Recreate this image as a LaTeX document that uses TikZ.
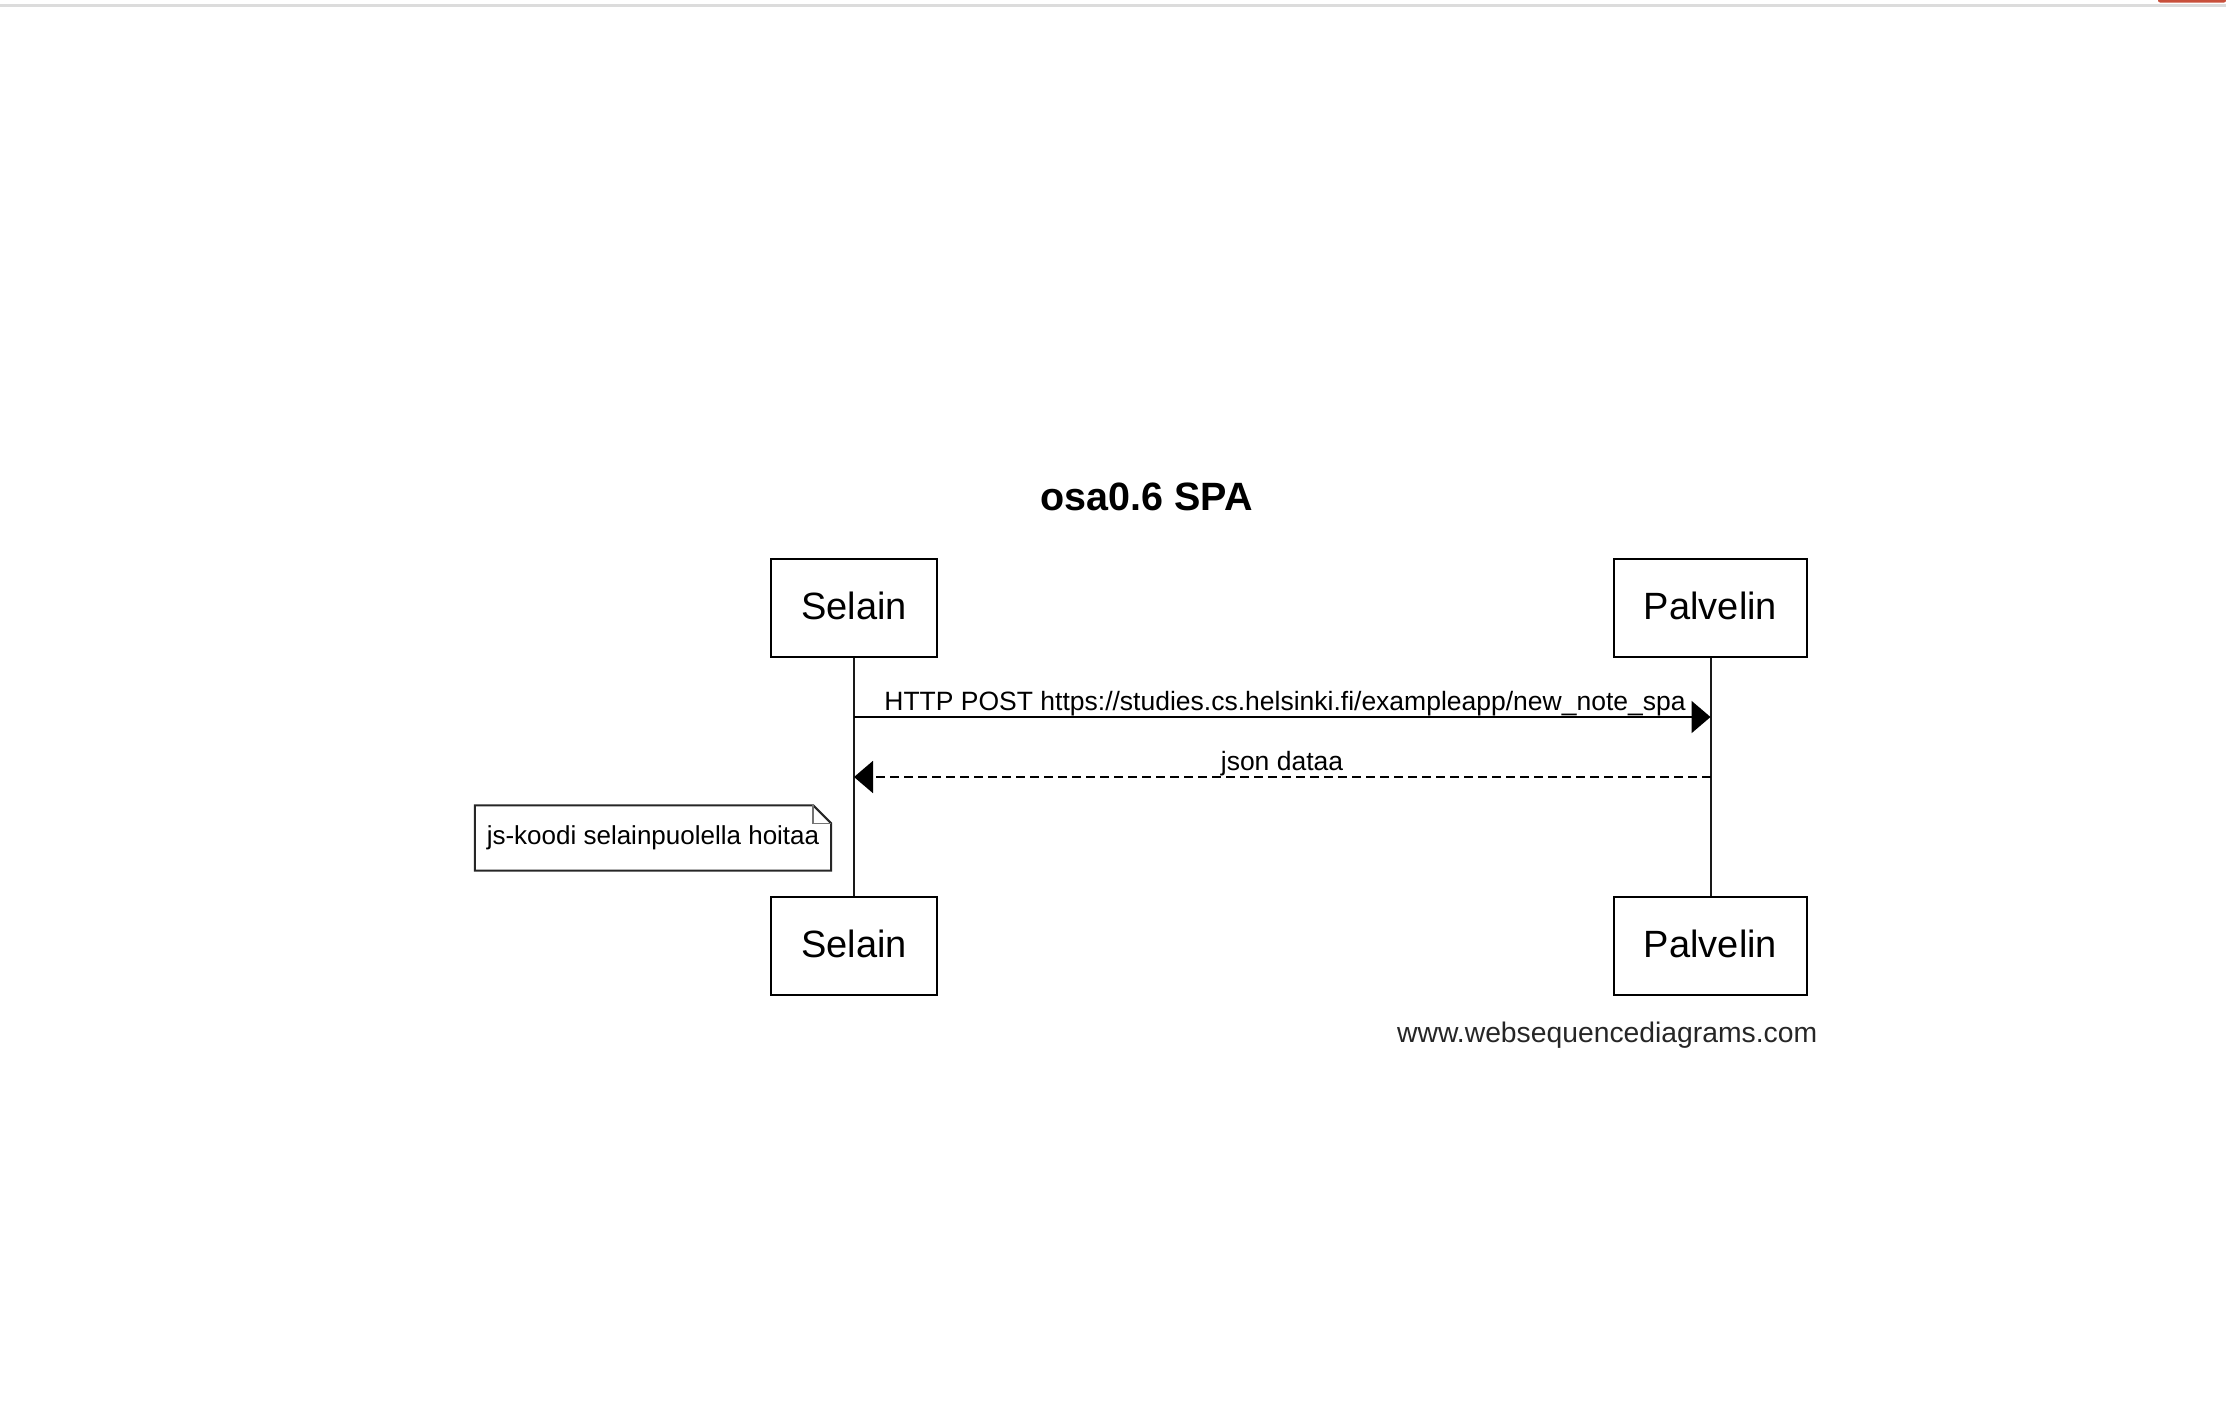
\documentclass[tikz,border=0pt]{standalone}
\usepackage{fontspec}
\setmainfont{Liberation Sans}
\usetikzlibrary{arrows.meta}
\definecolor{topgray}{HTML}{DCDCDC}
\definecolor{topred}{HTML}{C8503C}
\tikzset{
  actor/.style={draw=black, line width=2.2pt, fill=white, inner sep=0pt, minimum height=98pt,
    text height=27pt, text depth=5pt,
    font=\fontsize{38pt}{44pt}\selectfont},
  lifeline/.style={line width=2pt, draw=black!90},
  msg/.style={line width=2pt, -{Triangle[length=19pt,width=32pt]}},
  reply/.style={msg, dash pattern=on 9pt off 5pt},
  msglabel/.style={anchor=base, inner sep=0pt, font=\fontsize{26.5pt}{30pt}\selectfont},
  notebox/.style={inner sep=0pt, minimum width=356pt, minimum height=65pt,
    font=\fontsize{26pt}{30pt}\selectfont},
  noteline/.style={line width=2pt, draw=black!85, fill=white},
  foldline/.style={line width=1.5pt, draw=black!55},
}
\begin{document}
\begin{tikzpicture}[x=1pt, y=-1pt]
\useasboundingbox (0,0) rectangle (2226,1422);
% browser chrome remnants
\fill[topgray] (0,4) rectangle (2226,6.5);
\fill[topred, rounded corners=2pt] (2158,-3) rectangle (2226,2.5);

% title
\node[anchor=base, inner sep=0pt, font=\fontsize{39.5pt}{44pt}\selectfont\bfseries] (title) at (1146.5,510) {osa0.6 SPA};

% participants
\node[actor, minimum width=166pt] (st) at (854,608) {Selain};
\node[actor, minimum width=193pt] (pt) at (1710.5,608) {Palvelin};
\node[actor, minimum width=166pt] (sb) at (854,946) {Selain};
\node[actor, minimum width=193pt] (pb) at (1710.5,946) {Palvelin};

% lifelines
\draw[lifeline] (st.south) -- (sb.north);
\draw[lifeline] (pt.south) -- (pb.north);

% messages
\coordinate (m1s) at (st.south |- 0,717);
\coordinate (m1e) at (pt.south |- 0,717);
\coordinate (m2s) at (pt.south |- 0,777);
\coordinate (m2e) at (st.south |- 0,777);
\draw[msg] (m1s) -- (m1e);
\node[msglabel] (l1) at (1285,710.5) {HTTP POST https://studies.cs.helsinki.fi/exampleapp/new\_note\_spa};
\draw[reply] (m2s) -- (m2e);
\node[msglabel] (l2) at (1282,770) {json dataa};

% note
\node[notebox] (note) at (653,838) {};
\draw[noteline] (note.south west) -- (note.north west) -- ([xshift=-18pt]note.north east)
  -- ([yshift=-18pt]note.north east) -- (note.south east) -- cycle;
\draw[foldline] ([xshift=-18pt]note.north east) |- ([yshift=-18pt]note.north east);
\node[notebox] (notetext) at (653,838) {js-koodi selainpuolella hoitaa};

% footer
\node[anchor=base west, inner sep=0pt, font=\fontsize{28.3pt}{32pt}\selectfont, text=black!85] (footer) at (1397,1042) {www.websequencediagrams.com};
\end{tikzpicture}
\end{document}
